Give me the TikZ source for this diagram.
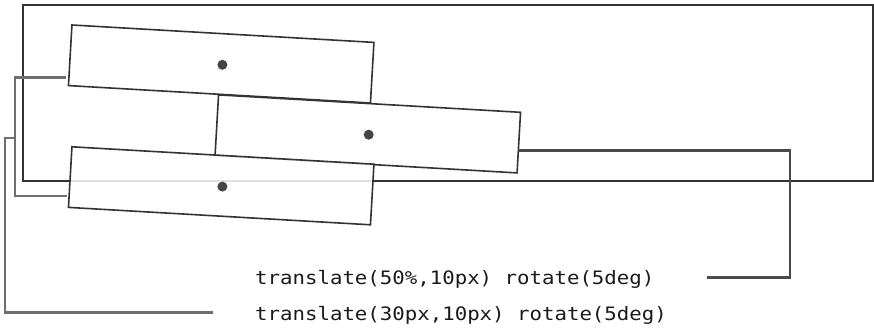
\documentclass[tikz,border=0pt]{standalone}
\usepackage{fontspec}
\usepackage{graphicx}
\usetikzlibrary{calc}
\newfontfamily\codefont{DejaVu Sans Mono}
\definecolor{boxline}{HTML}{333333}
\definecolor{dotc}{HTML}{454545}
\definecolor{conn}{HTML}{6E6E6E}
\definecolor{connd}{HTML}{4A4A4A}
\definecolor{txt}{HTML}{1A1A1A}
\begin{document}
\begin{tikzpicture}[x=1pt,y=-1pt,
  tbox/.style={draw=boxline,line width=1.6pt,fill=white,rectangle,inner sep=0pt,
    minimum width=302.5pt,minimum height=60.7pt,rotate=-3.3},
  dotmark/.style={circle,fill=dotc,inner sep=0pt,minimum size=10pt},
  wire/.style={draw=conn,line width=2.8pt,line join=miter},
  wired/.style={draw=connd,line width=2.8pt,line join=miter},
  codetext/.style={anchor=base west,inner sep=0pt,text=txt,font=\codefont\fontsize{18.5}{21}\selectfont}
]
\useasboundingbox (0,0) rectangle (874,328);
% outer frame
\draw[draw=boxline,line width=2.2pt] (23,5) rectangle (873.5,181);
% boxes
\node[tbox] (b1) at (221.2,64) {};
\node[tbox] (b2) at (367.8,133.9) {};
\node[tbox,fill opacity=0.85] (b3) at (221.2,185.8) {};
\node[dotmark] (d1) at ($(b1.center)+(1.2,0.8)$) {};
\node[dotmark] (d2) at ($(b2.center)+(0.9,0.8)$) {};
\node[dotmark] (d3) at ($(b3.center)+(1.2,0.8)$) {};
% labels
\node[codetext] (t1) at (255,284.3) {\scalebox{1.12}[1]{translate(50\%,10px) rotate(5deg)}};
\node[codetext] (t2) at (255,320.3) {\scalebox{1.12}[1]{translate(30px,10px) rotate(5deg)}};
% connectors
\coordinate (a1) at (65.7,77.3);
\coordinate (a3) at (66.7,196);
\coordinate (aj) at (15,138);
\draw[wire] (a1) -- (15,77.3) -- (15,196) -- (a3);
\draw[wire] (aj) -- (5,138) -- (5,312.7) -- (213,312.7) coordinate (ae);
\coordinate (c2) at (518.3,150.7);
\draw[wired] (c2) -- (790,150.7) -- (790,277.3) -- (707.3,277.3) coordinate (ce);
\end{tikzpicture}
\end{document}
